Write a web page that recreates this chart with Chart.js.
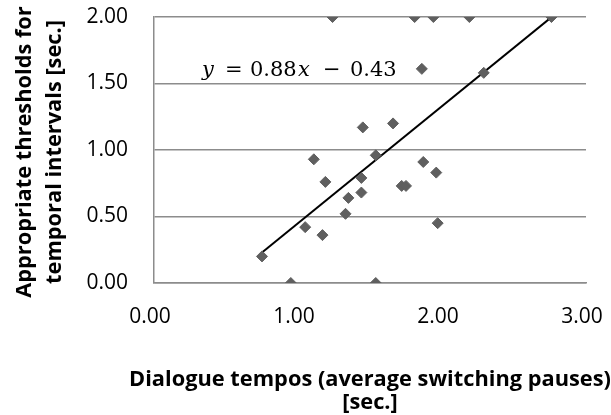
<!DOCTYPE html>
<html><head><meta charset="utf-8">
<script src="https://cdn.jsdelivr.net/npm/chart.js@4/dist/chart.umd.min.js"></script>
<style>html,body{margin:0;padding:0;background:#fff}#wrap{width:611px;height:415px;position:relative}</style>
</head><body><div id="wrap"><canvas id="c"></canvas></div>
<script>
// Data
const xValues = [0.75, 0.95, 1.05, 1.11, 1.17, 1.19, 1.24, 1.33, 1.35, 1.44, 1.44, 1.45, 1.54, 1.54, 1.66, 1.72, 1.75, 1.81, 1.86, 1.87, 1.94, 1.96, 1.97, 2.19, 2.29, 2.76];
const yValues = [0.20, 0.00, 0.42, 0.93, 0.36, 0.76, 2.00, 0.52, 0.64, 0.68, 0.79, 1.17, 0.96, 0.00, 1.20, 0.73, 0.73, 2.00, 1.61, 0.91, 2.00, 0.83, 0.45, 2.00, 1.58, 2.00];
const xTickValues = [0, 1, 2, 3];
const yTickValues = [0, 0.5, 1, 1.5, 2];
const trendSlope = 0.88;
const trendIntercept = -0.43;
const xTitle = ["Dialogue tempos (average switching pauses)", "[sec.]"];
const yTitle = ["Appropriate thresholds for", "temporal intervals [sec.]"];
const labelAnchor = [0.333, 1.56];

const points = xValues.map((x, i) => ({x: x, y: yValues[i]}));
const xMin = Math.min(...xValues), xMax = Math.max(...xValues);
const trendPoints = [xMin, xMax].map(x => ({x: x, y: trendSlope * x + trendIntercept}));

const gridColor = '#8c8c8c';
const tickFont = {family: 'Open Sans', size: 21};
const titleFontCss = 'bold 21.8px "Open Sans"';

const eqPlugin = {
  id: 'eq',
  afterDatasetsDraw(chart) {
    const ctx = chart.ctx;
    const xs = chart.scales.x, ys = chart.scales.y;
    const px0 = xs.getPixelForValue(labelAnchor[0]);
    const py = ys.getPixelForValue(labelAnchor[1]);
    const fam = '"DejaVu Serif", "Liberation Serif", serif';
    const pieces = [
      ['y', 'italic', 0], ['=', 'normal', 23], [Math.abs(trendSlope).toFixed(2), 'normal', 48],
      ['x', 'italic', 96], ['\u2212', 'normal', 121], [Math.abs(trendIntercept).toFixed(2), 'normal', 148]
    ];
    ctx.save();
    ctx.fillStyle = '#000';
    ctx.textBaseline = 'alphabetic';
    ctx.textAlign = 'left';
    for (const [t, st, off] of pieces) {
      ctx.font = st + ' 21px ' + fam;
      ctx.fillText(t, px0 + off, py);
    }
    ctx.restore();
  }
};

const titlePlugin = {
  id: 'axisTitles',
  afterDraw(chart) {
    const ctx = chart.ctx;
    const a = chart.chartArea;
    ctx.save();
    ctx.fillStyle = '#000';
    ctx.font = titleFontCss;
    ctx.textAlign = 'center';
    ctx.textBaseline = 'alphabetic';
    const cx = (a.left + a.right) / 2;
    ctx.fillText(xTitle[0], cx, 386);
    ctx.fillText(xTitle[1], cx, 409);
    const cy = (a.top + a.bottom) / 2 + 2;
    const yb = [31, 61];
    yTitle.forEach((t, i) => {
      ctx.save();
      ctx.translate(yb[i], cy);
      ctx.rotate(-Math.PI / 2);
      ctx.fillText(t, 0, 0);
      ctx.restore();
    });
    ctx.restore();
  }
};

new Chart(document.getElementById('c'), {
  type: 'scatter',
  data: {
    datasets: [
      {
        label: 'data',
        data: points,
        pointStyle: 'rectRot',
        pointRadius: 5.5,
        pointHoverRadius: 5.5,
        backgroundColor: '#5f5f5f',
        borderColor: '#5f5f5f',
        borderWidth: 1
      },
      {
        label: 'trend',
        type: 'line',
        data: trendPoints,
        borderColor: '#000',
        borderWidth: 2,
        pointRadius: 0,
        fill: false
      }
    ]
  },
  options: {
    responsive: true,
    maintainAspectRatio: false,
    animation: false,
    events: [],
    layout: {padding: {top: 17, right: 25, left: 0, bottom: 0}},
    plugins: {legend: {display: false}, tooltip: {enabled: false}},
    scales: {
      x: {
        type: 'linear', min: 0, max: 3,
        afterBuildTicks: s => { s.ticks = xTickValues.map(v => ({value: v})); },
        afterFit: s => { s.height = 132; s.paddingLeft = 0; s.paddingRight = 0; },
        grid: {display: false, drawTicks: false},
        border: {display: true, color: gridColor, width: 1.5},
        ticks: {font: tickFont, color: '#000', padding: 21, labelOffset: -4, callback: v => Number(v).toFixed(2)},
        title: {display: false}
      },
      y: {
        type: 'linear', min: 0, max: 2,
        afterBuildTicks: s => { s.ticks = yTickValues.map(v => ({value: v})); },
        afterFit: s => { s.width = 154; s.paddingTop = 0; s.paddingBottom = 0; },
        grid: {color: gridColor, lineWidth: 1.5, drawTicks: false},
        border: {display: true, color: gridColor, width: 1.5},
        ticks: {font: tickFont, color: '#000', padding: 26, callback: v => Number(v).toFixed(2)},
        title: {display: false}
      }
    }
  },
  plugins: [eqPlugin, titlePlugin]
});
</script>
</body></html>
